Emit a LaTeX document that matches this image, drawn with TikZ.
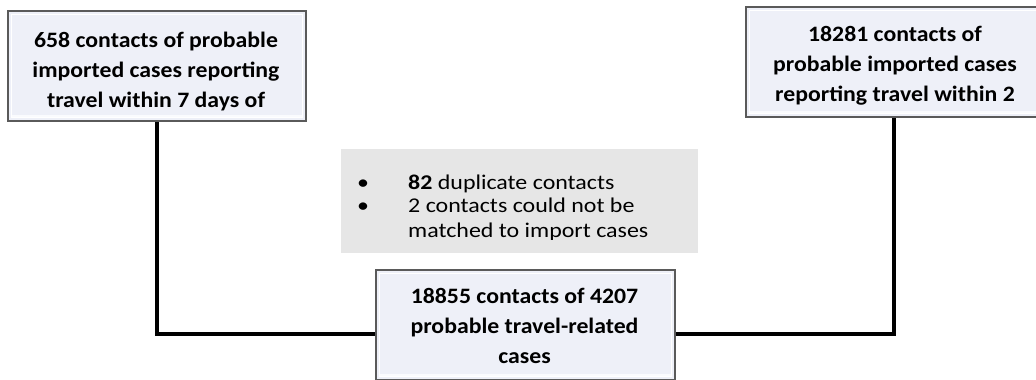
\documentclass[tikz,border=0pt]{standalone}
\usepackage{fontspec}
\setmainfont{Carlito}
\newfontfamily\boxfont[FakeStretch=1.08]{Carlito}
\newfontfamily\notefont[FakeStretch=1.14]{Carlito}
\definecolor{boxfill}{RGB}{238,240,248}
\definecolor{bevel}{RGB}{250,251,254}
\definecolor{noteback}{RGB}{230,230,230}
\definecolor{boxedge}{RGB}{90,90,90}
\begin{document}
\begin{tikzpicture}[x=1pt,y=-1pt,
  box/.style={draw=boxedge, line width=2pt, fill=boxfill, inner sep=0pt,
    path picture={\draw[bevel, line width=3pt]
      ([xshift=4pt,yshift=5pt]path picture bounding box.south west) -- ([xshift=-4pt,yshift=5pt]path picture bounding box.south east);
      \draw[white, line width=1.5pt]
      ([xshift=3.5pt,yshift=-3.5pt]path picture bounding box.north west) rectangle ([xshift=-3.5pt,yshift=3.5pt]path picture bounding box.south east);}},
  boxtext/.style={font=\boxfont\bfseries\fontsize{22}{30}\selectfont, align=center, inner sep=0pt, text=black},
  notetext/.style={font=\notefont\fontsize{21}{22.5}\selectfont, inner sep=0pt, anchor=base west, text=black},
  bullet/.style={font=\notefont\fontsize{21}{22.5}\selectfont, inner sep=0pt, anchor=base, text=black},
  link/.style={line width=3.6pt, black}]
\useasboundingbox (0,0) rectangle (1036,380);
\clip (0,0) rectangle (1036,380);
% source boxes
\node[box, minimum width=298pt, minimum height=110pt, anchor=north west] (src1) at (7,10) {};
\node[boxtext, anchor=north] (t1) at (156,32) {658 contacts of probable\\imported cases reporting\\travel within 7 days of};
\node[box, minimum width=296pt, minimum height=110pt, anchor=north west] (src2) at (745,6) {};
\node[boxtext, anchor=north] (t2) at (895,26) {18281 contacts of\\probable imported cases\\reporting travel within 2};
% merged box
\node[box, minimum width=299pt, minimum height=110pt, anchor=north west] (merge) at (375,269) {};
\node[boxtext, anchor=north] (t3) at (524.5,288) {18855 contacts of 4207\\probable travel-related\\cases};
% exclusion note
\node[fill=noteback, minimum width=357pt, minimum height=104pt, anchor=north west, inner sep=0pt] (note) at (341,149) {};
\begin{scope}
\clip (note.north west) rectangle ([yshift=14pt]note.south east);
\node[bullet] (b1) at (363,189) {\textbullet};
\node[notetext] (n1) at (408,189) {\textbf{82} duplicate contacts};
\node[bullet] (b2) at (363,212.5) {\textbullet};
\node[notetext] (n2) at (408,212.5) {2 contacts could not be};
\node[notetext] (n3) at (408,237) {matched to import cases};
\end{scope}
% connectors
\draw[link] (src1.south) |- ([yshift=-9pt]merge.west);
\draw[link] (src2.south) |- ([yshift=-9pt]merge.east);
\end{tikzpicture}
\end{document}
